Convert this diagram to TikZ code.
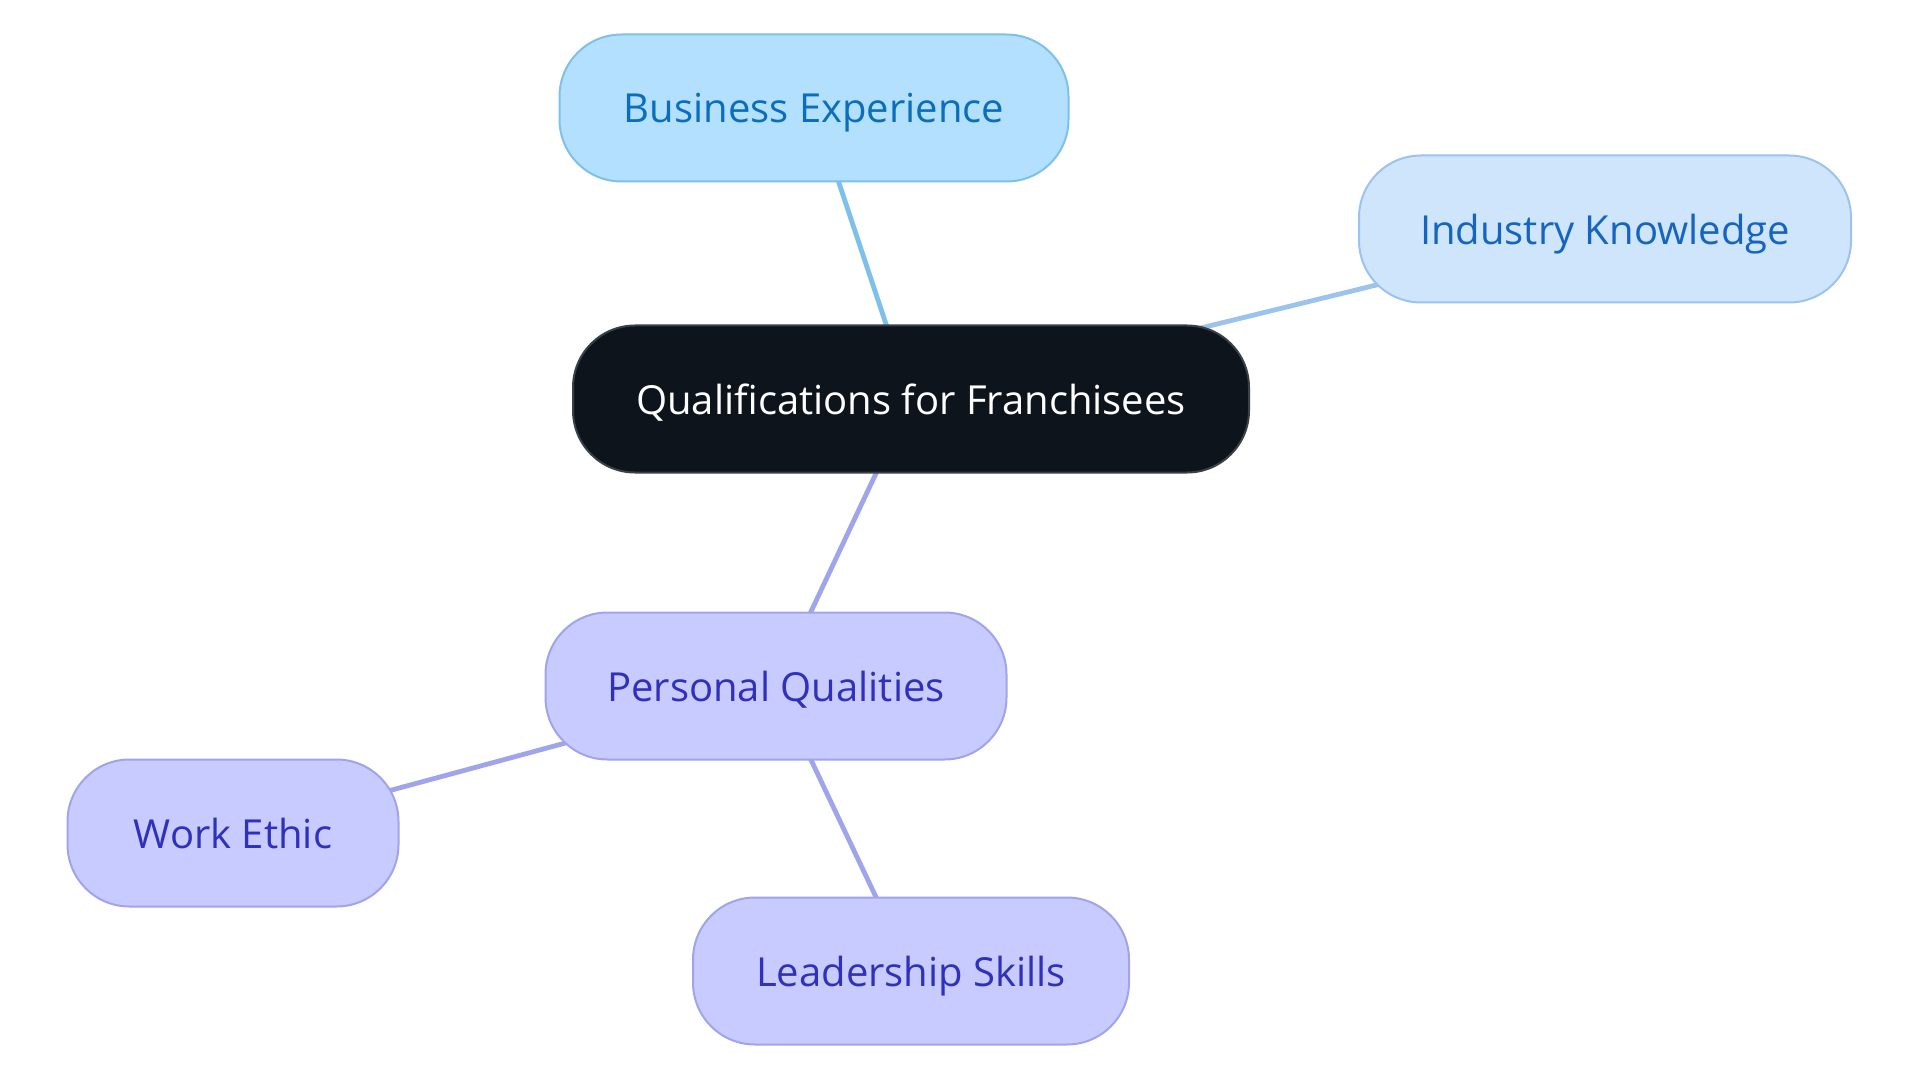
\documentclass[tikz,border=0pt]{standalone}
\usepackage{fontspec}
\setmainfont{Open Sans}
\usetikzlibrary{backgrounds}
\definecolor{beFill}{HTML}{B3E0FF}
\definecolor{beLine}{HTML}{7FC0EA}
\definecolor{beText}{HTML}{0A6EBD}
\definecolor{ikFill}{HTML}{CFE5FC}
\definecolor{ikLine}{HTML}{9CC3EE}
\definecolor{ikText}{HTML}{1565C0}
\definecolor{rtFill}{HTML}{0D141C}
\definecolor{rtLine}{HTML}{3A4048}
\definecolor{pqFill}{HTML}{C8CBFF}
\definecolor{pqLine}{HTML}{A0A4EA}
\definecolor{pqText}{HTML}{3030BB}
\begin{document}
\begin{tikzpicture}[x=1pt,y=-1pt,
  box/.style={rounded corners=62pt, line width=2pt, minimum height=147pt, inner sep=0pt, text depth=-3pt, font=\fontsize{40}{44}\selectfont},
  befmt/.style={box, fill=beFill, draw=beLine, text=beText},
  ikfmt/.style={box, fill=ikFill, draw=ikLine, text=ikText},
  rtfmt/.style={box, fill=rtFill, draw=rtLine, text=white},
  pqfmt/.style={box, fill=pqFill, draw=pqLine, text=pqText},
  link/.style={line width=4.8pt}]
\useasboundingbox (0,0) rectangle (1920,1083);
\node[rtfmt, minimum width=676pt] (root) at (911,399) {Qualifications for Franchisees};
\node[befmt, minimum width=509pt] (be) at (814,108) {Business Experience};
\node[ikfmt, minimum width=492pt] (ik) at (1605,229) {Industry Knowledge};
\node[pqfmt, minimum width=461pt] (pq) at (776,686) {Personal Qualities};
\node[pqfmt, minimum width=331pt] (we) at (233,833) {Work Ethic};
\node[pqfmt, minimum width=436pt] (ls) at (911,971) {Leadership Skills};
\begin{scope}[on background layer]
\fill[white] (0,0) rectangle (1920,1083);
\draw[link, draw=beLine] (root.center) -- (be.center);
\draw[link, draw=ikLine] (root.center) -- (ik.center);
\draw[link, draw=pqLine] (root.center) -- (pq.center);
\draw[link, draw=pqLine] (pq.center) -- (we.center);
\draw[link, draw=pqLine] (pq.center) -- (ls.center);
\end{scope}
\end{tikzpicture}
\end{document}
